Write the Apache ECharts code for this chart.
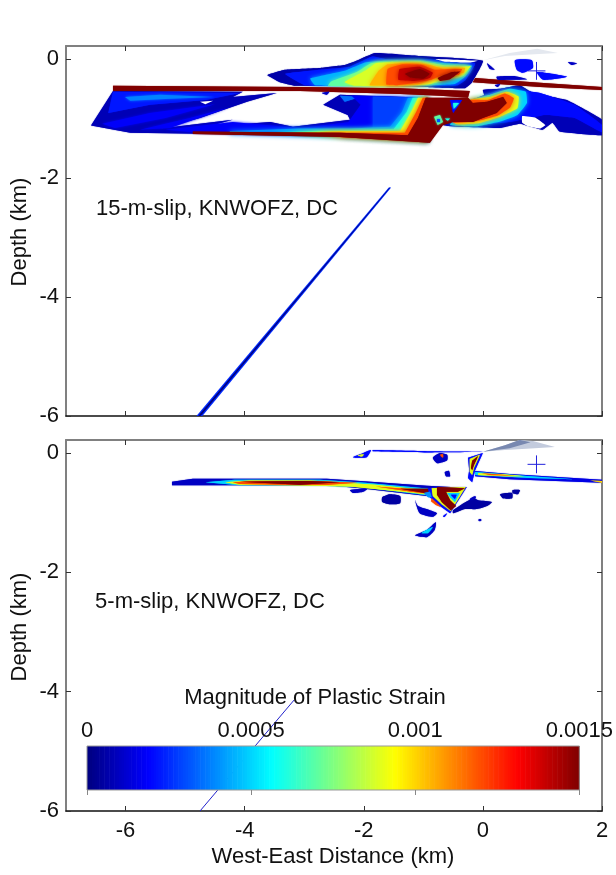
<!DOCTYPE html>
<html><head><meta charset="utf-8">
<style>html,body{margin:0;padding:0;background:#fff}#c{width:616px;height:875px}</style>
<script src="https://cdn.jsdelivr.net/npm/echarts@6/dist/echarts.min.js"></script>
</head><body><div id="c"></div>
<script>
// Plastic strain contours: [strain, x1,y1, x2,y2, ...] in km; null = empty (white)
const xTicks = [-6,-4,-2,0,2];
const yTicks = [0,-2,-4,-6];
const barLabels = {0:'0',0.0005:'0.0005',0.001:'0.001',0.0015:'0.0015'};

const topWedge = [
 [.00008,-6.58,-1.12,-6.21,-.54,-4.03,-.55,-4.20,-.64,-3.46,-.57,-3.96,-.72,-4.75,-.99,-5.42,-1.17,-4.20,-1.02,-4.63,-1.14,-3.57,-1.06,-3.19,-1.14,-2.23,-1.02,-2.27,-.94,-2.68,-.77,-2.40,-.60,-.92,-.65,-.92,-1.41,-2.40,-1.29,-5.92,-1.24],
 [.00022,-6.21,-.55,-4.08,-.57,-4.66,-.69,-5.59,-.77,-6.29,-.91],
 [.00038,-6.01,-.64,-5.42,-.60,-4.50,-.64,-5.25,-.67,-5.92,-.70],
 [.00018,-6.39,-1.09,-5.59,-.91,-4.50,-.76,-5.33,-.99,-6.18,-1.16],
 [.00018,-5.76,-1.19,-4.92,-.99,-4.25,-.81,-5.25,-1.16],
 [null,-4.75,-.72,-4.53,-.70,-4.66,-.76],
 [.00018,-5.33,-1.19,-4.20,-1.06,-3.07,-1.16,-2.23,-1.06,-2.23,-1.31,-4.75,-1.24]
];
const topField = [
 [.00035,-2.40,-.62,-2.06,-.64,-2.32,-.72],
 [.00018,-2.20,-.62,-.92,-.65,-.92,-1.39,-2.40,-1.28,-2.23,-1.02,-2.05,-.77],
 [.00028,-1.85,-.63,-.92,-.65,-.92,-1.39,-2.40,-1.30,-1.85,-1.15],
 [.0004,-4.25,-1.21,-3.07,-1.17,-2.23,-1.17,-1.56,-1.14,-1.36,-.89,-1.26,-.65,-.92,-.65,-.92,-1.39,-2.40,-1.31,-4.25,-1.26],
 [.0006,-3.60,-1.23,-2.60,-1.20,-1.50,-1.18,-1.28,-.89,-1.18,-.65,-.92,-.65,-.92,-1.39,-2.40,-1.31],
 [.0009,-3.24,-1.24,-2.40,-1.21,-1.39,-1.21,-1.19,-.86,-1.09,-.65,-.92,-.65,-.92,-1.39,-2.40,-1.31],
 [.0012,-2.74,-1.24,-1.31,-1.24,-1.12,-.89,-1.01,-.65,-.92,-.65,-.92,-1.39,-2.40,-1.31]
];
const topEast = [
 [.00008,-.22,-.69,.03,-.64,0,-.52,.29,-.50,.62,-.44,.84,-.57,1.41,-.69,2,-1.02,2,-1.28,1.29,-1.22,1.17,-1.07,1,-1.19,.62,-1.09,.29,-1.16,-.67,-1.11],
 [.0002,.37,-.50,.96,-.57,1.54,-.77,2,-1.11,2,-1.23,1.54,-.99,1.04,-.94,.45,-1.06,-.3,-1.1,-.2,-.7],
 [null,.66,-.96,.89,-.99,1.05,-1.11,.96,-1.17,.76,-1.13,.66,-1.07],
 [.0005,.12,-.60,.45,-.50,.72,-.55,.74,-.74,.58,-.94,.29,-1.05,-.10,-1.13,-.55,-1.11,-.22,-.69],
 [.0009,.12,-.64,.40,-.55,.60,-.63,.58,-.83,.29,-.97,-.08,-1.08,-.47,-1.09,-.22,-.69],
 [.0012,.08,-.69,.37,-.58,.52,-.66,.46,-.81,.25,-.95,-.08,-1.04,-.50,-1.07,-.22,-.69]
];
const topCore = [
 [.0015,-4.87,-1.22,-2.40,-1.24,-1.26,-1.28,-1.09,-.99,-.96,-.65,-.25,-.65,-.17,-.74,.07,-.72,.34,-.64,.40,-.74,.23,-.91,0,-.99,-.17,-1.06,-.50,-1.06,-.67,-1.11,-.89,-1.41,-2.40,-1.31,-4.87,-1.26],
 [.0002,-.55,-.69,-.35,-.69,-.50,-.91],
 [.0006,-.50,-.74,-.40,-.74,-.49,-.84],
 [.0007,-.82,-.97,-.72,-.94,-.67,-1.06,-.76,-1.11],
 [.0003,-.77,-1.01,-.72,-1.01,-.72,-1.06,-.77,-1.06],
 [.0006,-.64,-1,-.55,-1,-.59,-1.04]
];
const topLens = [
 [.00006,-3.62,-.27,-3.32,-.18,-2.74,-.15,-2.32,-.10,-2.10,-.02,-1.81,.10,-1.06,.05,0,-.03,-.18,-.39,-.30,-.49,-1.06,-.47,-2.06,-.45,-3.15,-.45,-3.41,-.39],
 [.00022,-3.32,-.25,-2.74,-.18,-2.23,-.13,-1.86,.04,-1.64,0,-.89,-.01,-.13,-.07,-.29,-.35,-.42,-.44,-1.06,-.45,-2.06,-.45,-2.99,-.44],
 [.00045,-2.90,-.33,-2.32,-.20,-1.98,-.06,-1.64,-.03,-1.06,-.02,-.64,-.07,-.18,-.11,-.29,-.29,-.47,-.42,-.89,-.44,-2.06,-.45,-2.82,-.44],
 [.0007,-2.55,-.38,-2.12,-.22,-1.88,-.07,-1.55,-.05,-1.06,-.04,-.68,-.10,-.22,-.13,-.32,-.28,-.60,-.35,-.92,-.43,-2.06,-.45,-2.6,-.45],
 [.00088,-2.32,-.39,-1.98,-.20,-1.80,-.07,-1.48,-.06,-1.06,-.06,-.72,-.13,-.35,-.14,-.20,-.12,-.35,-.27,-.64,-.32,-.89,-.42,-1.39,-.45,-2.15,-.45],
 [.00105,-1.90,-.44,-1.75,-.20,-1.60,-.09,-1.22,-.07,-.89,-.10,-.64,-.17,-.30,-.15,-.32,-.23,-.64,-.29,-.86,-.34,-1.06,-.42,-1.48,-.44],
 [.0012,-1.62,-.43,-1.60,-.17,-1.35,-.09,-1.02,-.10,-.81,-.18,-.35,-.17,-.40,-.26,-.70,-.28,-.88,-.35,-1.19,-.41,-1.43,-.44],
 [.0014,-1.42,-.35,-1.40,-.17,-1.06,-.13,-.84,-.23,-.89,-.32,-1.15,-.37],
 [.0015,-1.31,-.25,-1.06,-.17,-.89,-.25,-.99,-.33,-1.22,-.31],
 [.0015,-.76,-.32,-.52,-.22,-.38,-.21,-.55,-.34,-.72,-.37],
 [null,-.80,-.0,-.08,-.03,-.22,-.06,-.64,-.045]
];
const topStripes = [
 [.0015,-6.21,-.45,-3.07,-.47,-1.39,-.49,-.22,-.54,-.25,-.65,-.72,-.62,-1.39,-.59,-3.07,-.54,-6.21,-.54],
 [.0015,-.13,-.32,.96,-.40,2,-.47,2,-.52,.96,-.47,-.17,-.39]
];
const topBlobs = [
 [.0002,.54,-.02,.82,-.02,.84,-.15,.67,-.23,.57,-.18],
 [.0002,.91,-.22,1.41,-.30,1.01,-.35],
 [.0001,1.43,-.05,1.58,-.07,1.49,-.10],
 [.0001,.07,-.07,.20,-.18,.12,-.17],
 [.0001,.23,-.30,.54,-.29,.74,-.34,.45,-.35,.25,-.35],
 [.0001,.20,-.44,.29,-.42,.25,-.47],
 [.0001,-2.70,-.57,-2.58,-.55,-2.62,-.60]
];
const topFault = [
 [.00025,-1.58,-2.16,-4.81,-6,-4.71,-6,-1.54,-2.16],
 [0,-1.565,-2.16,-4.78,-6,-4.74,-6,-1.555,-2.16]
];
const topMesh = [0,-.02,.45,.10,.91,.17,1.26,.10,.87,.08,.37,.05];

const botStripe = [
 [.0001,-5.22,-.48,-4.87,-.43,-2.62,-.43,-2.06,-.47,-.94,-.55,-.55,-.57,-.55,-.78,-.94,-.72,-2.06,-.59,-2.62,-.54,-4.13,-.54,-5.22,-.54],
 [.0005,-4.66,-.49,-4.17,-.45,-2.74,-.45,-1.98,-.50,-.89,-.60,-.55,-.62,-.55,-.76,-1.06,-.69,-2.06,-.57,-3.07,-.54,-4.08,-.54],
 [.0009,-4.33,-.49,-3.91,-.46,-2.90,-.46,-1.81,-.53,-1.06,-.61,-.55,-.64,-.55,-.74,-1.22,-.66,-2.23,-.56,-3.24,-.54,-4.08,-.53],
 [.0012,-4.20,-.49,-3.8,-.47,-2.85,-.47,-2.1,-.50,-2.6,-.53,-3.3,-.53,-4.08,-.52],
 [.0015,-4.08,-.48,-2.95,-.47,-2.40,-.49,-3.07,-.53],
 [.0012,-1.8,-.56,-1.06,-.62,-.55,-.65,-.55,-.72,-1.2,-.65],
 [.0015,-1.39,-.60,-.89,-.60,-.55,-.62,-.55,-.72,-.97,-.67]
];
const botBlock = [
 [.0002,-.92,-.59,-.27,-.57,-.55,-1.01,-.72,-.89,-.89,-.74],
 [.0009,-.86,-.59,-.29,-.57,-.54,-.97,-.69,-.86,-.84,-.72],
 [.0015,-.77,-.57,-.30,-.59,-.42,-.65,-.62,-.65,-.55,-.79,-.45,-.89,-.54,-.96,-.69,-.82,-.77,-.70],
 [.0005,-.60,-.67,-.39,-.67,-.47,-.82,-.55,-.74],
 [.0002,-.54,-.70,-.44,-.70,-.47,-.77],
 [.0004,-.99,-.67,-.89,-.65,-.86,-.74,-.92,-.74],
 [.0012,-.86,-.76,-.77,-.84,-.70,-.91,-.79,-.87,-.87,-.81]
];
const botBlobs = [
 [.0001,-2.23,-.62,-1.93,-.59,-2.01,-.65,-2.18,-.67],
 [.00005,-1.69,-.74,-1.56,-.69,-1.39,-.72,-1.39,-.84,-1.56,-.86,-1.69,-.82],
 [.0001,-1.14,-.79,-1.09,-.89,-.89,-.96,-.77,-1.01,-.84,-1.07,-1.06,-1.01],
 [.0001,-1.14,-1.38,-.94,-1.29,-.79,-1.16,-.81,-1.29,-.94,-1.41],
 [.0005,-1.03,-1.34,-.89,-1.26,-.84,-1.24,-.92,-1.34],
 [.0002,-2.18,-.07,-2.01,0,-1.88,.05,-1.95,-.07,-2.10,-.08],
 [.0009,-2.10,-.04,-2,-.02,-2.03,-.06],
 [.0002,-1.85,.05,-.89,.03,.07,.02,-.89,.01,-1.85,.03],
 [.0001,-.84,-.08,-.72,0,-.60,-.03,-.60,-.12,-.77,-.17],
 [.0012,-.72,-.03,-.67,-.02,-.67,-.08],
 [.0001,-.64,-.32,-.57,-.30,-.55,-.39,-.62,-.39],
 [.00005,.29,-.69,.49,-.67,.49,-.76,.34,-.76],
 [.00005,.50,-.62,.62,-.62,.59,-.69,.50,-.67],
 [.00005,-.50,-.96,-.17,-.76,-.08,-.79,.15,-.82,.07,-.89,-.10,-.94,-.30,-.94,-.50,-1.01],
 [.0001,-.22,-.77,-.13,-.72,-.12,-.76,-.20,-.79],
 [.0002,-.67,-1.06,-.60,-1.01,-.64,-1.07],
 [.0001,-.07,-1.11,-.03,-1.11,-.03,-1.14,-.07,-1.14]
];
const botEast = [
 [.0002,-.25,-.08,0,0,-.13,-.29,-.18,-.49,-.25,-.42,-.23,-.29],
 [.0009,-.22,-.10,-.05,-.03,-.15,-.25,-.18,-.37,-.22,-.32],
 [.0015,-.18,-.13,-.08,-.05,-.15,-.20,-.18,-.29,-.20,-.25],
 [.00015,-.13,-.30,.45,-.35,2,-.45,2,-.50,.45,-.44,-.13,-.39],
 [.0005,-.13,-.32,.79,-.39,1.54,-.44,.79,-.42,-.13,-.37],
 [.0009,-.08,-.34,.37,-.36,.70,-.39,.37,-.39,-.08,-.37],
 [.0012,-.02,-.34,.37,-.37,.54,-.38,.12,-.37],
 [.001,1.80,-.46,2,-.47,2,-.50]
];
const botFault = [-3.17,-4.14,-4.75,-6];
const botMesh = [0,.02,.37,.13,.62,.22,.84,.20,1.21,.10,.87,.08,.37,.05];
const botMeshDark = [0,.02,.37,.13,.62,.22,.80,.18,.45,.08];
const topPlus = [0.9,-0.2,0.15];
const botPlus = [0.9,-0.19,0.15];
const barLevels = [];
for (let i = 0; i < 200; i++) barLevels.push(i);

const STRAIN_MAX = 0.0015;
function jet(t){
  t = Math.max(0, Math.min(1, t));
  const c = o => Math.round(255*Math.max(0, Math.min(1, 1.5 - Math.abs(4*t - o))));
  return `rgb(${c(3)},${c(2)},${c(1)})`;
}
function polySeries(layers, g, blur, smooth){
  return {
    type:'custom', coordinateSystem:'cartesian2d', xAxisIndex:g, yAxisIndex:g, clip:true, z:3, silent:true,
    data: layers.map((l,i)=>[i]),
    renderItem(params, api){
      const l = layers[params.dataIndex], pts = [];
      for (let i = 1; i < l.length; i += 2) pts.push(api.coord([l[i], l[i+1]]));
      const col = l[0] === null ? '#ffffff' : jet(l[0]/STRAIN_MAX);
      const b = l[0] === null ? 0 : (params.dataIndex <= 1 ? Math.min(blur,1) : blur);
      return {type:'polygon', shape:{points:pts, smooth:smooth||0},
        style:{fill:col, shadowBlur:b, shadowColor:col}};
    }
  };
}
function meshSeries(pts, g, fill){
  return {
    type:'custom', coordinateSystem:'cartesian2d', xAxisIndex:g, yAxisIndex:g, clip:true, z:3, silent:true, data:[[0]],
    renderItem(params, api){
      const p = [];
      for (let i = 0; i < pts.length; i += 2) p.push(api.coord([pts[i], pts[i+1]]));
      return {type:'polygon', shape:{points:p}, style:{fill}};
    }
  };
}
function plusSeries(p, g){
  return {
    type:'custom', coordinateSystem:'cartesian2d', xAxisIndex:g, yAxisIndex:g, clip:true, z:4, silent:true, data:[[0],[1]],
    renderItem(params, api){
      const a = params.dataIndex === 0
        ? [[p[0]-p[2],p[1]],[p[0]+p[2],p[1]]] : [[p[0],p[1]-p[2]],[p[0],p[1]+p[2]]];
      const s = api.coord(a[0]), e = api.coord(a[1]);
      return {type:'line', shape:{x1:s[0],y1:s[1],x2:e[0],y2:e[1]}, style:{stroke:'#2222dd', lineWidth:1, fill:null}};
    }
  };
}
const FONT = 'Liberation Sans';
const FS = 22;
const GRAY = '#808080';
const tick = {inside:true, length:5, lineStyle:{color:'#333', width:1}};
function xAx(g, pos, label){
  return {type:'value', gridIndex:g, position:pos, min:-7, max:2, splitLine:{show:false},
    axisLine:{onZero:false, lineStyle:{color:pos==='top'?GRAY:'#111', width:pos==='top'?2:1.5}},
    axisTick:{...tick, customValues:xTicks},
    axisLabel:{show:label, customValues:xTicks, color:'#111', fontFamily:FONT, fontSize:FS, margin:9}};
}
function yAx(g, pos, label){
  return {type:'value', gridIndex:g, position:pos, min:-6, max:.218, splitLine:{show:false},
    axisLine:{onZero:false, lineStyle:{color:GRAY, width:2}},
    axisTick:{...tick, customValues:yTicks},
    axisLabel:{show:label, customValues:yTicks, color:'#111', fontFamily:FONT, fontSize:FS, margin:7}};
}
const F = `${FS}px "Liberation Sans"`;
const txt = (x,y,t) => ({type:'text', x, y, z:20, style:{text:t, fill:'#111', font:F, textAlign:'center', textVerticalAlign:'middle'}});
const vtxt = (x,y,t) => ({type:'text', x, y, z:20, rotation:Math.PI/2, style:{text:t, fill:'#111', font:F, textAlign:'center', textVerticalAlign:'middle'}});

const chart = echarts.init(document.getElementById('c'), null, {renderer:'canvas'});
chart.setOption({
  animation:false, backgroundColor:'#fff',
  grid:[
    {left:66, top:46, width:536, height:370},
    {left:66, top:440, width:536, height:371},
    {left:87, top:746, width:495, height:44, show:true, borderColor:'#999', borderWidth:1, z:6, backgroundColor:'transparent'}
  ],
  xAxis:[
    xAx(0,'bottom',false), xAx(1,'bottom',true),
    {type:'value', gridIndex:2, position:'top', min:0, max:STRAIN_MAX, interval:0.0005, z:8, splitLine:{show:false},
     axisLine:{show:false},
     axisTick:{inside:true, length:5, lineStyle:{color:'#888'}},
     axisLabel:{color:'#111', fontFamily:FONT, fontSize:FS, margin:4, hideOverlap:false, showMaxLabel:true, showMinLabel:true,
       formatter:v=>barLabels[v] ?? String(v)}},
    {...xAx(0,'top',false), axisLabel:{show:false}}, {...xAx(1,'top',false), axisLabel:{show:false}}
  ],
  yAxis:[
    yAx(0,'left',true), yAx(1,'left',true),
    {type:'value', gridIndex:2, min:0, max:1, show:false},
    yAx(0,'right',false), yAx(1,'right',false)
  ],
  graphic:[
    txt(217,209,'15-m-slip, KNWOFZ, DC'),
    txt(210,602,'5-m-slip, KNWOFZ, DC'),
    txt(315,698,'Magnitude of Plastic Strain'),
    txt(333,857,'West-East Distance (km)'),
    vtxt(20,232,'Depth (km)'),
    vtxt(20,627,'Depth (km)')
  ],
  series:[
    polySeries(topFault,0,0),
    polySeries(topWedge,0,3),
    polySeries(topField,0,5),
    polySeries(topEast,0,5,.1),
    polySeries(topCore,0,2),
    polySeries(topLens,0,5,.1),
    polySeries(topStripes,0,1),
    polySeries(topBlobs,0,1,.2),
    meshSeries(topMesh,0,'#e4e8ef'),
    plusSeries(topPlus,0),
    polySeries(botBlobs,1,1,.2),
    polySeries(botStripe,1,1),
    polySeries(botBlock,1,1),
    polySeries(botEast,1,1),
    meshSeries(botMesh,1,'#c3cbdd'),
    meshSeries(botMeshDark,1,'#7888b0'),
    plusSeries(botPlus,1),
    {type:'line', xAxisIndex:1, yAxisIndex:1, z:2, silent:true, symbol:'none', clip:true,
     data:[[botFault[0],botFault[1]],[botFault[2],botFault[3]]], lineStyle:{color:'#2222cc', width:1}},
    {type:'custom', coordinateSystem:'cartesian2d', xAxisIndex:2, yAxisIndex:2, z:5, silent:true, clip:true,
     data:barLevels.map(i=>[i]),
     renderItem(params, api){
       const i = params.dataIndex, n = barLevels.length;
       const a = api.coord([i/n*STRAIN_MAX,1]), b = api.coord([(i+1)/n*STRAIN_MAX,0]);
       const col = jet((i+.5)/n);
       return {type:'rect', shape:{x:a[0],y:a[1],width:b[0]-a[0]+.6,height:b[1]-a[1]}, style:{fill:col}};
     }}
  ]
});
</script></body></html>
